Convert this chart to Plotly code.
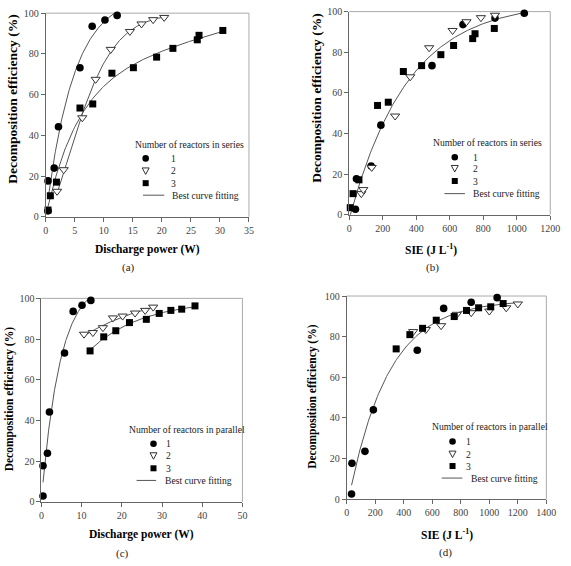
import itertools
import plotly.graph_objects as go
import numpy as np

W, H = 571, 566

# ---- data ----
# (a) reactors in series vs discharge power
a_p1 = [0.4, 0.4, 1.46, 2.2, 5.9, 8.0, 10.2, 12.3]
a_e1 = [2.9, 17.6, 23.9, 44.2, 73.2, 93.6, 96.6, 98.9]
a_p2 = [1.96, 3.1, 6.3, 8.6, 11.2, 14.5, 16.5, 18.5, 20.4]
a_e2 = [12.5, 23.1, 48.6, 67.5, 82.2, 91.0, 94.7, 96.8, 97.9]
a_p3 = [0.4, 0.8, 1.85, 5.9, 8.1, 11.4, 15.1, 19.1, 21.9, 26.1, 26.4, 30.5]
a_e3 = [3.3, 10.3, 17.0, 53.4, 55.4, 70.5, 73.2, 78.4, 82.7, 86.9, 89.1, 91.5]

# (b) reactors in series vs SIE
b_s1 = [37, 43, 131, 189, 494, 679, 870, 1045]
b_e1 = [2.7, 17.7, 24.0, 44.1, 73.4, 93.6, 96.8, 99.2]
b_s2 = [72, 84, 134, 274, 364, 477, 617, 700, 786, 870]
b_e2 = [10.4, 12.4, 23.3, 48.6, 67.9, 82.2, 90.7, 95.0, 97.0, 98.2]
b_s3 = [6, 23, 58, 169, 233, 323, 432, 547, 623, 737, 751, 866]
b_e3 = [3.5, 10.4, 17.2, 53.8, 55.4, 70.5, 73.4, 78.8, 83.3, 86.7, 89.1, 91.7]

# (c) reactors in parallel vs discharge power
c_p1 = [0.4, 0.4, 1.5, 2.0, 5.75, 7.9, 10.1, 12.3]
c_e1 = [2.9, 17.8, 23.9, 44.2, 73.2, 93.6, 96.6, 99.0]
c_p2 = [10.6, 12.8, 15.3, 17.8, 20.2, 23.3, 25.8, 27.8]
c_e2 = [82.4, 83.2, 85.6, 90.4, 91.3, 92.8, 94.1, 95.7]
c_p3 = [12.1, 15.5, 18.5, 21.9, 26.1, 29.3, 32.2, 34.9, 38.2]
c_e3 = [74.2, 81.1, 84.1, 88.1, 89.7, 92.6, 94.1, 94.7, 96.3]

# (d) reactors in parallel vs SIE
d_s1 = [34, 37, 128, 187, 495, 680, 873, 1055]
d_e1 = [2.6, 17.7, 23.6, 44.0, 73.3, 93.9, 96.9, 99.2]
d_s2 = [466, 555, 662, 772, 873, 1000, 1119, 1200]
d_e2 = [82.5, 83.5, 85.4, 91.0, 91.8, 92.6, 94.2, 96.1]
d_s3 = [347, 443, 532, 628, 754, 840, 925, 1010, 1097]
d_e3 = [74.0, 81.0, 84.1, 88.1, 89.9, 92.9, 94.2, 94.7, 96.3]

SERIF = 'Liberation Serif'


def px(x):
    return x / W


def py(y):
    return 1 - y / H


# ---- curve fitting (linear coefficients solved for each grid point) ----
def weibull(x, b, n):
    return (1 - np.exp(-(x / b) ** n))[:, None]


def exp_rise(x, b):
    return np.column_stack([np.ones_like(x), 1 - np.exp(-b * x)])


def double_exp(x, b, d):
    return np.column_stack([1 - np.exp(-b * x), 1 - np.exp(-d * x)])


def best_fit(x, y, model):
    x = np.asarray(x, float)
    y = np.asarray(y, float)
    m = x.max()
    if model == 'weibull':
        fn, grids = weibull, [np.geomspace(m / 60, m * 3, 90), np.linspace(0.5, 3, 51)]
    elif model == 'exp':
        fn, grids = exp_rise, [np.geomspace(0.1 / m, 60 / m, 300)]
    else:
        g = np.geomspace(0.3 / m, 100 / m, 60)
        fn, grids = double_exp, [g, g]
    best = None
    for prm in itertools.product(*grids):
        if model == 'dexp' and prm[0] <= prm[1]:
            continue
        phi = fn(x, *prm)
        coef = np.linalg.lstsq(phi, y, rcond=None)[0]
        sse = ((phi @ coef - y) ** 2).sum()
        if best is None or sse < best[0]:
            best = (sse, prm, coef)
    xs = np.linspace(x.min(), x.max(), 200)
    return xs, fn(xs, *best[1]) @ best[2]


fig = go.Figure()

# panel -> (axis suffix, data sets, fit models)
panels = [
    ('', [(a_p1, a_e1), (a_p2, a_e2), (a_p3, a_e3)], ['weibull', 'weibull', 'dexp']),
    ('2', [(b_s1, b_e1), (b_s2, b_e2), (b_s3, b_e3)], 'exp'),
    ('3', [(c_p1, c_e1), (c_p2, c_e2), (c_p3, c_e3)], ['exp', 'exp', 'exp']),
    ('4', [(d_s1, d_e1), (d_s2, d_e2), (d_s3, d_e3)], 'exp'),
]

markers = [
    dict(symbol='circle', size=7.6, color='black', line=dict(width=0)),
    dict(symbol='triangle-down', size=8, color='white', line=dict(width=1, color='#333')),
    dict(symbol='square', size=7, color='black', line=dict(width=0)),
]

shapes = []

for suf, sets, models in panels:
    xa, ya = 'x' + suf, 'y' + suf
    if isinstance(models, list):
        groups = [(s[0], s[1], mdl) for s, mdl in zip(sets, models)]
    else:
        groups = [(sum([list(s[0]) for s in sets], []), sum([list(s[1]) for s in sets], []), models)]
    for gx, gy, mdl in groups:
        fx, fy = best_fit(gx, gy, mdl)
        fig.add_trace(go.Scatter(x=fx, y=fy, mode='lines', xaxis=xa, yaxis=ya,
                                 line=dict(color='#555', width=1), showlegend=False,
                                 hoverinfo='skip'))
    for (sx, sy), m in zip(sets, markers):
        fig.add_trace(go.Scatter(x=sx, y=sy, mode='markers', xaxis=xa, yaxis=ya,
                                 marker=m, showlegend=False, cliponaxis=False))
    # light gray top/right frame
    shapes.append(dict(type='path', xref=xa + ' domain', yref=ya + ' domain',
                       path='M 0 1 L 1 1 L 1 0', line=dict(color='#aaa', width=1),
                       layer='below'))


def axis(x0, x1, rng, dtick, anchor, horiz=True):
    dom = [px(x0), px(x1)] if horiz else [py(x1), py(x0)]
    return dict(domain=dom, range=rng, dtick=dtick, tick0=0, anchor=anchor,
                showgrid=False, zeroline=False, showline=True,
                linecolor='#666', linewidth=1, ticks='outside', ticklen=4,
                tickcolor='#666', fixedrange=True,
                tickfont=dict(family=SERIF, size=10, color='#444'))


layout = dict(
    width=W, height=H, margin=dict(l=0, r=0, t=0, b=0),
    paper_bgcolor='white', plot_bgcolor='white', showlegend=False,
    xaxis=axis(43.7, 251.7, [0, 35], 5, 'y'),
    yaxis=axis(7.3, 215.3, [0, 100], 20, 'x', False),
    xaxis2=axis(354.3, 560, [0, 1200], 200, 'y2'),
    yaxis2=axis(5.7, 213.3, [0, 100], 20, 'x2', False),
    xaxis3=axis(39.3, 245, [0, 50], 10, 'y3'),
    yaxis3=axis(298.7, 506.7, [0, 100], 20, 'x3', False),
    xaxis4=axis(351.7, 556, [0, 1400], 200, 'y4'),
    yaxis4=axis(296.3, 504, [0, 100], 20, 'x4', False),
)
fig.update_layout(**layout)

annotations = []


def text(x, y, s, size, anchor='center', angle=0, color='#222'):
    annotations.append(dict(
        x=px(x), y=py(y), xref='paper', yref='paper', text=s, showarrow=False,
        xanchor=anchor, yanchor='middle', textangle=angle,
        font=dict(family=SERIF, size=size, color=color)))


# axis titles and panel labels
text(148, 248.3, '<b>Discharge power (W)</b>', 11.5, color='black')
text(10, 95, '<b>Decomposition efficiency (%)</b>', 13.5, angle=-90, color='black')
text(128.7, 266.7, '(a)', 11)
text(438.3, 248.3, '<b>SIE (J L<sup>-1</sup>)</b>', 11.5, color='black')
text(320, 94, '<b>Decomposition efficiency (%)</b>', 13.5, angle=-90, color='black')
text(440, 266.7, '(b)', 11)
text(142, 540.3, '<b>Discharge power (W)</b>', 11.5, color='black')
text(7, 401, '<b>Decomposition efficiency (%)</b>', 11.5, angle=-90, color='black')
text(122, 559.7, '(c)', 11)
text(454, 539.7, '<b>SIE (J L<sup>-1</sup>)</b>', 11.5, color='black')
text(316.7, 398.8, '<b>Decomposition efficiency (%)</b>', 11.5, angle=-90, color='black')
text(452.7, 558.5, '(d)', 11)

# hand-drawn legends: (title x, title y, symbol x, row ys, label x, line x0, line x1, best x, title)
legends = [
    (133, 141, 146, [155.7, 168.5, 181, 193.3], 170, 143.3, 165, 170.5, 'Number of reactors in series'),
    (438.3, 139.3, 462.3, [154.5, 166, 178.8, 191.7], 479, 451.7, 472.7, 479, 'Number of reactors in series'),
    (126.7, 432.3, 154, [447.3, 459.5, 472.3, 484.7], 164.5, 136.7, 156.7, 163.3, 'Number of reactors in parallel'),
    (436.7, 430, 460, [445, 457.8, 470, 482.3], 471.5, 449, 470, 476.7, 'Number of reactors in parallel'),
]
for tx, ty, sx, rows, lx, l0, l1, bx, title in legends:
    text(tx, ty, title, 9.6, anchor='left')
    for r, lab in zip(rows[:3], ['1', '2', '3']):
        text(lx, r, lab, 9.6, anchor='left')
    text(bx, rows[3], 'Best curve fitting', 9.6, anchor='left')
    common = dict(xref='paper', yref='paper', xsizemode='pixel', ysizemode='pixel',
                  xanchor=px(sx))
    shapes.append(dict(type='circle', yanchor=py(rows[0]), x0=-3.3, x1=3.3, y0=-3.3, y1=3.3,
                       fillcolor='black', line=dict(width=0), **common))
    shapes.append(dict(type='path', yanchor=py(rows[1]), path='M -3.5 3 L 3.5 3 L 0 -3.5 Z',
                       fillcolor='white', line=dict(width=1, color='#333'), **common))
    shapes.append(dict(type='rect', yanchor=py(rows[2]), x0=-3, x1=3, y0=-3, y1=3,
                       fillcolor='black', line=dict(width=0), **common))
    shapes.append(dict(type='line', xref='paper', yref='paper', x0=px(l0), x1=px(l1),
                       y0=py(rows[3]), y1=py(rows[3]), line=dict(color='#555', width=1)))

fig.update_layout(annotations=annotations, shapes=shapes)
fig.write_html("out.html", config={'displayModeBar': False},
               post_script="document.body.style.margin='0';")
